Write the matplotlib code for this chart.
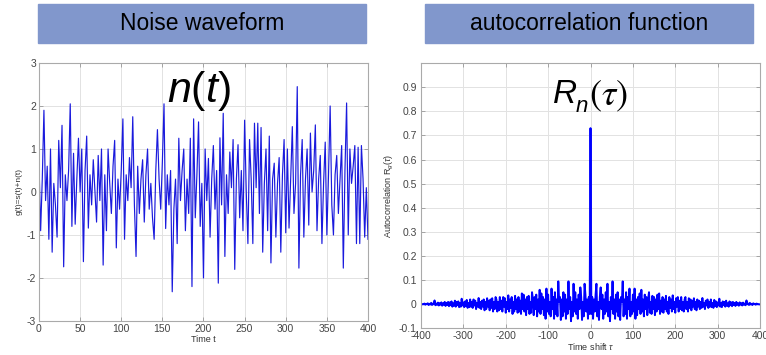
import numpy as np
import matplotlib
matplotlib.use('Agg')
import matplotlib.pyplot as plt
from matplotlib.patches import Rectangle

plt.rcParams['font.family'] = ['Liberation Sans', 'DejaVu Sans']
plt.rcParams['mathtext.fontset'] = 'custom'
plt.rcParams['mathtext.rm'] = 'Liberation Sans'
plt.rcParams['mathtext.it'] = 'Liberation Sans:italic'
plt.rcParams['axes.unicode_minus'] = False

# ==== Noise waveform, read every 2 time units ====
t = np.arange(0, 401, 2)
noise = [
    0.7, -0.9, 0.3, 1.9, -0.2, 0.6, -1.1, 1.0, -1.4, 0.2,
    -0.3, -1.05, 1.2, 0.1, 1.55, -1.74, 0.4, -0.2, 0.5, 2.05,
    -0.8, 0.9, -0.75, 0.3, 1.25, 0.0, 1.0, -1.62, 0.5, 1.3,
    -0.84, 0.4, -0.3, 0.75, 0.0, -0.7, 0.85, -0.2, 1.0, -1.7,
    0.4, -0.9, 1.0, 0.2, -0.5, 0.6, 1.2, -1.3, 0.3, -0.4,
    0.5, 1.7, -1.1, 0.4, -0.2, 0.8, 0.1, 1.75, -0.3, -1.5,
    0.6, -0.5, 0.3, 0.75, -0.7, 0.4, 1.0, -0.4, 0.2, -0.6,
    -1.1, 0.5, 1.45, 0.3, -0.4, 0.7, 2.05, -0.85, 0.4, -0.3,
    0.5, -2.32, -0.4, 0.3, -1.2, 1.25, -0.2, 0.5, 1.0, -0.9,
    0.3, -0.5, 1.25, -2.2, 1.7, -0.6, 0.4, 1.63, -0.8, 0.2,
    -2.0, 1.0, -0.2, 0.78, -1.05, 0.3, 1.08, -0.4, 0.5, -2.12,
    1.26, -0.3, 1.83, -1.5, 0.4, -0.5, 0.93, 0.1, 1.22, -1.8,
    0.3, 1.1, -0.6, 0.5, -0.9, 1.67, 0.0, -1.2, 1.22, 0.3,
    -1.2, 1.6, 0.1, 1.6, -0.5, 1.5, -1.4, 0.2, 1.0, -0.9,
    1.3, -1.65, 0.3, 0.67, -1.05, 0.2, 0.8, -1.4, 0.4, 1.22,
    -0.95, 1.0, -0.84, 0.3, 1.52, -0.5, 0.2, 2.45, -1.77, 0.4,
    1.22, -1.05, 0.3, 1.0, -0.77, 1.37, 0.0, 0.5, 1.56, -0.9,
    0.3, 0.85, -1.2, 0.2, 1.16, -1.0, 0.4, 2.0, -0.3, -1.0,
    0.4, 0.85, -0.5, 0.3, 1.08, -1.77, 0.5, 2.07, -1.0, 1.0,
    0.2, 0.6, 1.08, -1.2, 1.04, -1.2, 1.08, 0.3, -1.05, 0.1,
    -1.1]

# ==== Autocorrelation, positive lags every 2 (symmetric in tau) ====
tau_pos = np.arange(0, 401, 2)
r_pos = [
    0.73, -0.04, 0.03, -0.06, 0.02, -0.03, 0.04, 0.085, -0.05, 0.01,
    -0.065, 0.03, 0.07, -0.02, 0.04, -0.06, 0.02, -0.04, 0.05, -0.03,
    0.085, -0.05, 0.01, -0.07, 0.03, -0.02, 0.095, -0.04, 0.02, -0.06,
    0.04, -0.03, 0.05, -0.05, 0.02, -0.065, 0.03, 0.01, 0.095, -0.05,
    0.02, -0.04, 0.05, -0.06, 0.03, -0.02, 0.065, -0.05, 0.01, -0.04,
    0.04, -0.03, 0.065, -0.06, 0.02, -0.045, 0.03, -0.02, 0.045, -0.04,
    0.06, -0.03, 0.02, -0.05, 0.04, -0.02, 0.03, -0.045, 0.02, 0.05,
    -0.035, 0.01, -0.04, 0.035, -0.02, 0.03, -0.045, 0.02, -0.03, 0.04,
    -0.02, 0.045, -0.04, 0.015, -0.03, 0.03, -0.035, 0.02, -0.02, 0.035,
    -0.03, 0.01, -0.04, 0.03, -0.015, 0.02, -0.03, 0.037, -0.02, 0.01,
    -0.035, 0.025, -0.01, 0.03, -0.03, 0.015, -0.02, 0.03, -0.025, 0.01,
    -0.03, 0.02, 0.03, -0.02, 0.01, -0.03, 0.025, -0.015, 0.02, -0.025,
    0.015, -0.01, 0.025, -0.02, 0.01, -0.025, 0.02, -0.01, 0.015, -0.02,
    0.01, -0.015, 0.026, -0.01, 0.005, -0.02, 0.015, -0.005, 0.02, -0.015,
    0.01, -0.01, 0.02, -0.012, 0.005, -0.015, 0.018, -0.008, 0.012, -0.012,
    0.008, -0.005, 0.023, -0.01, 0.005, -0.012, 0.012, -0.004, 0.01, -0.01,
    0.015, -0.006, 0.004, -0.01, 0.012, -0.004, 0.008, -0.008, 0.01, -0.003,
    0.006, -0.007, 0.01, -0.002, 0.004, -0.006, 0.008, -0.002, 0.005, -0.005,
    0.007, -0.002, 0.003, -0.004, 0.016, 0.0, 0.003, -0.003, 0.006, -0.001,
    0.002, -0.003, 0.004, 0.0, 0.002, -0.002, 0.003, 0.0, 0.001, -0.001,
    0.0]

tau = np.concatenate([-tau_pos[:0:-1], tau_pos])
r_full = np.concatenate([r_pos[:0:-1], r_pos])

box_color = '#8197CC'
tick_color = '#444444'


def style_axes(ax):
    ax.grid(True, color='#e2e2e2', lw=0.7)
    ax.tick_params(direction='in', length=3, width=0.6, labelsize=7.5,
                   colors='#999999', labelcolor=tick_color, pad=2,
                   top=True, right=True)
    for s in ax.spines.values():
        s.set_color('#aaaaaa')
        s.set_linewidth(0.8)


fig = plt.figure(figsize=(7.66, 3.55), dpi=100)

# ==== Header boxes ====
for x0, title in [(0.0496, 'Noise waveform'),
                  (0.5548, 'autocorrelation function')]:
    fig.patches.append(Rectangle((x0, 0.8789), 0.4282, 0.1099,
                                 transform=fig.transFigure,
                                 color=box_color, zorder=0))
    fig.text(x0 + 0.2141, 0.8789 + 0.055, title, fontsize=16.5,
             ha='center', va='center', color='black')

# ==== Left: noise ====
ax1 = fig.add_axes([0.0509, 0.0958, 0.4295, 0.7268])
ax1.plot(t, noise, color='#1a1add', lw=0.85)
ax1.set_xlim(0, 400)
ax1.set_ylim(-3, 3)
ax1.set_xticks(np.arange(0, 401, 50))
ax1.set_yticks(np.arange(-3, 4, 1))
style_axes(ax1)
ax1.set_xlabel('Time t', fontsize=6.5, color='#333333', labelpad=1)
ax1.set_ylabel('g(t)=s(t)+n(t)', fontsize=6, color='#333333', labelpad=3)
ax1.text(0.389, 0.849, r'$n\mathrm{(}t\mathrm{)}$', transform=ax1.transAxes,
         fontsize=31, ha='left', va='baseline', color='black')

# ==== Right: autocorrelation ====
ax2 = fig.add_axes([0.5496, 0.0749, 0.4426, 0.7476])
ax2.plot(tau, r_full, color='#0000ff', lw=1.4)
ax2.set_xlim(-400, 400)
ax2.set_ylim(-0.1, 1.0)
ax2.set_xticks(np.arange(-400, 401, 100))
ax2.set_yticks(np.round(np.arange(-0.1, 0.91, 0.1), 1))
ax2.set_yticklabels(['-0.1', '0', '0.1', '0.2', '0.3', '0.4', '0.5',
                     '0.6', '0.7', '0.8', '0.9'])
style_axes(ax2)
ax2.tick_params(axis='y', pad=3)
ax2.set_xlabel(r'Time shift $\tau$', fontsize=6.5, color='#333333',
               labelpad=0)
ax2.set_ylabel(r'Autocorrelation R$_g$($\tau$)', fontsize=6.5,
               color='#333333', labelpad=2)
ax2.text(0.386, 0.850, r'$R$', transform=ax2.transAxes,
         fontsize=24, ha='left', va='baseline', color='black')
ax2.text(0.455, 0.816, r'$n$', transform=ax2.transAxes,
         fontsize=16, ha='left', va='baseline', color='black')
ax2.text(0.496, 0.840, r'$(\tau)$', transform=ax2.transAxes,
         fontsize=26, ha='left', va='baseline', color='black',
         math_fontfamily='stix')

fig.savefig('out.png', dpi=100)
